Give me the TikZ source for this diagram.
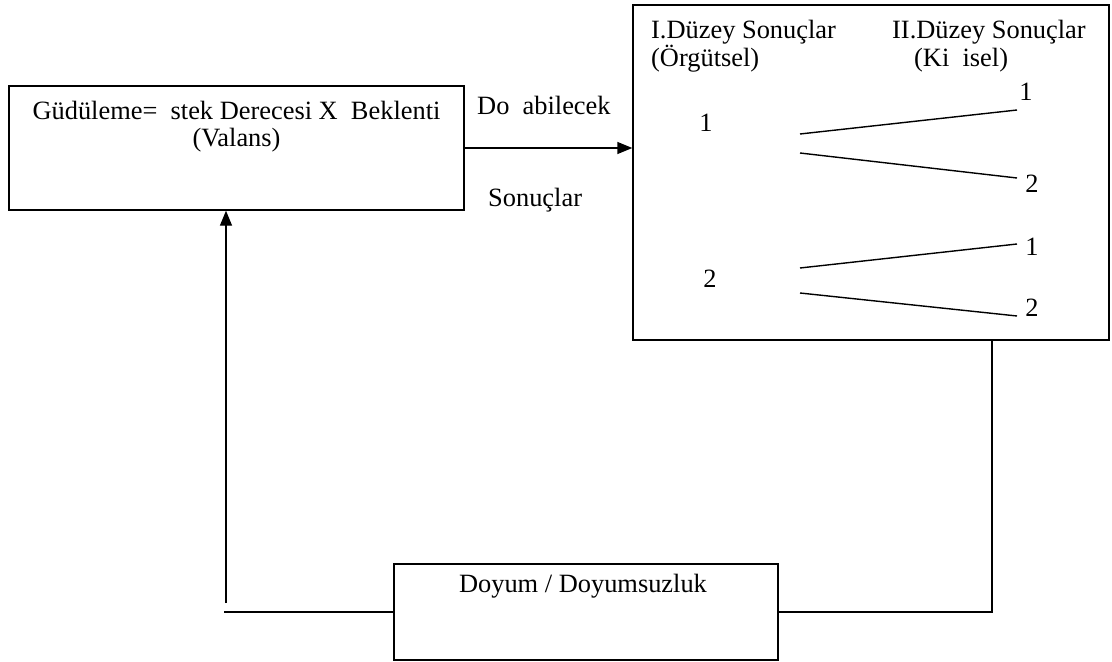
\documentclass[tikz,border=0pt]{standalone}
\usepackage{fontspec}
\setmainfont{Liberation Serif}
\usetikzlibrary{arrows.meta}
\begin{document}
\begin{tikzpicture}[x=1bp,y=-1bp,
  box/.style={draw,line width=1.4bp,minimum width=#1,inner sep=0},
  txt/.style={inner sep=0,anchor=base west,font=\fontsize{26.5}{30}\selectfont},
  ctxt/.style={inner sep=0,anchor=base,font=\fontsize{26.5}{30}\selectfont},
  conn/.style={line width=1.4bp},
  arr/.style={conn,-{Triangle[length=15bp,width=12bp]}}]
\useasboundingbox (0,0) rectangle (1112,662);
% boxes
\node[box=455bp,minimum height=124bp] (b1) at (236.5,148) {};
\node[box=476bp,minimum height=335bp] (b2) at (871,172.5) {};
\node[box=384bp,minimum height=96bp] (b3) at (586,612) {};
% box 1 text
\node[ctxt] (t1) at (236.5,120) {Güdüleme=\ \ stek Derecesi X\ \ Beklenti};
\node[ctxt] (t2) at (236.5,147) {(Valans)};
% arrow labels
\node[txt] (l1) at (477,115) {Do\ \ abilecek};
\node[txt] (l2) at (488,207) {Sonuçlar};
% box 2 headings
\node[txt] (h1) at (651,39) {I.Düzey Sonuçlar};
\node[txt] (h2) at (651,67) {(Örgütsel)};
\node[txt] (h3) at (892,39) {II.Düzey Sonuçlar};
\node[txt] (h4) at (914,67) {(Ki\ \ isel)};
% numbers
\node[ctxt] (n1) at (706,132) {1};
\node[ctxt] (n2) at (710,287) {2};
\node[ctxt] (m1) at (1026,101) {1};
\node[ctxt] (m2) at (1032,193) {2};
\node[ctxt] (m3) at (1032,255) {1};
\node[ctxt] (m4) at (1032,316) {2};
% branch lines
\coordinate (a1) at (800,134); \coordinate (e1) at (1017,110);
\coordinate (a2) at (800,153); \coordinate (e2) at (1017,178);
\coordinate (a3) at (800,268); \coordinate (e3) at (1017,244);
\coordinate (a4) at (800,293); \coordinate (e4) at (1017,316);
\draw[conn] (a1) -- (e1);
\draw[conn] (a2) -- (e2);
\draw[conn] (a3) -- (e3);
\draw[conn] (a4) -- (e4);
% box 3 text
\node[ctxt] (t3) at (583,592) {Doyum / Doyumsuzluk};
% connectors
\draw[arr] (b1.east) -- (b1.east -| b2.west);
\coordinate (c1) at (992,340);
\draw[conn] (b3.east) -| (c1);
\coordinate (c2) at (224,612);
\draw[conn] (b3.west) -- (c2);
\coordinate (c3) at (226,603);
\draw[arr] (c3) -- (c3 |- b1.south);
\end{tikzpicture}
\end{document}
